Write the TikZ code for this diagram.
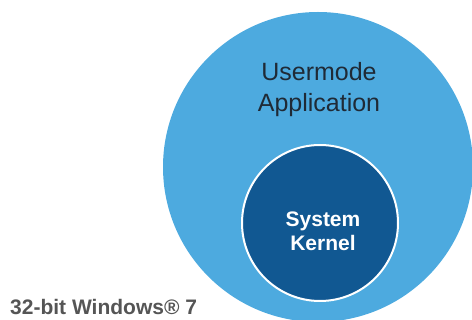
\documentclass[tikz,border=0pt]{standalone}
\usepackage{fontspec}
\setmainfont{Liberation Sans}
\definecolor{lightblue}{HTML}{4DAADF}
\definecolor{darkblue}{HTML}{115892}
\definecolor{labelgray}{HTML}{555555}
\definecolor{textdark}{HTML}{1F2A36}
\begin{document}
\begin{tikzpicture}[x=1pt,y=-1pt,
  outer/.style={circle,fill=lightblue,minimum size=310pt,inner sep=0pt},
  inner/.style={circle,fill=darkblue,draw=white,line width=2pt,minimum size=156pt,inner sep=0pt},
  lighttext/.style={font=\fontsize{25}{30}\selectfont,text=textdark,anchor=base},
  boldtext/.style={font=\fontsize{21}{25}\selectfont\bfseries,text=white,anchor=base},
  captext/.style={font=\fontsize{21}{25}\selectfont\bfseries,text=labelgray,anchor=base west,inner sep=0pt}]
\useasboundingbox (0,0) rectangle (472,320);
\begin{scope}
\clip (0,0) rectangle (472,320);
\node[outer] (app) at (318,167) {};
\node[inner] (kernel) at (320,223) {};
\end{scope}
\node[lighttext] (t1) at (319,81) {Usermode};
\node[lighttext] (t2) at (319,112) {Application};
\node[boldtext] (k1) at (323,227) {System};
\node[boldtext] (k2) at (323,251) {Kernel};
\node[captext] (cap) at (10,315) {32-bit Windows® 7};
\end{tikzpicture}
\end{document}
